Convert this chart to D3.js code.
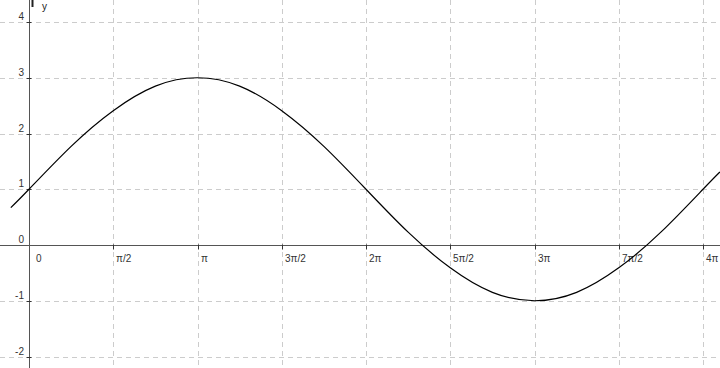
<!DOCTYPE html>
<html>
<head>
<meta charset="utf-8">
<script src="https://cdn.jsdelivr.net/npm/d3@7"></script>
<style>
  body { margin: 0; background: #fff; }
  svg { display: block; font-family: "Liberation Sans", Arial, sans-serif; }
  .grid line { stroke: #cccccc; stroke-dasharray: 5,4; }
  .lbl { font-size: 10px; fill: #333; }
</style>
</head>
<body>
<svg width="720" height="368"></svg>
<script>
// x positions are in multiples of pi
var xTickValues = [0.5, 1, 1.5, 2, 2.5, 3, 3.5, 4];
var xTickLabels = ["π/2", "π", "3π/2", "2π", "5π/2", "3π", "7π/2", "4π"];
var yTickValues = [-2, -1, 0, 1, 2, 3, 4];

// curve
var curveX = [-0.108, 0, 0.25, 0.5, 0.75, 1, 1.25, 1.5, 1.75, 2, 2.25, 2.5, 2.75, 3, 3.25, 3.5, 3.75, 4, 4.1];
var curveY = [0.67, 1, 1.77, 2.41, 2.85, 3, 2.85, 2.41, 1.77, 1, 0.23, -0.41, -0.85, -1, -0.85, -0.41, 0.23, 1, 1.31];

var width = 720, height = 368;
var svg = d3.select('svg');

var xScale = d3.scaleLinear().domain([0, 4]).range([29, 703]);
var yScale = d3.scaleLinear().domain([0, 4]).range([245, 22]);

// grid
var grid = svg.append('g').attr('class', 'grid');
grid.selectAll('.vg')
    .data(xTickValues)
    .enter().append('line')
    .attr('x1', d => Math.round(xScale(d)) + 0.5)
    .attr('x2', d => Math.round(xScale(d)) + 0.5)
    .attr('y1', 0)
    .attr('y2', height);
grid.selectAll('.hg')
    .data(yTickValues.filter(d => d != 0))
    .enter().append('line')
    .attr('x1', 0)
    .attr('x2', width)
    .attr('y1', d => Math.round(yScale(d)) + 0.5)
    .attr('y2', d => Math.round(yScale(d)) + 0.5);

// axes
var x0 = Math.round(xScale(0)) + 0.5;
var y0 = Math.round(yScale(0)) + 0.5;
svg.append('line')
    .attr('x1', 0).attr('x2', width)
    .attr('y1', y0).attr('y2', y0)
    .attr('stroke', '#555');
svg.append('line')
    .attr('x1', x0).attr('x2', x0)
    .attr('y1', 0).attr('y2', height)
    .attr('stroke', '#555');
svg.append('line')
    .attr('x1', x0 + 3).attr('x2', x0 + 3)
    .attr('y1', 0).attr('y2', 7)
    .attr('stroke', '#222')
    .attr('stroke-width', 2);
svg.append('text')
    .attr('x', 42).attr('y', 10)
    .attr('font-size', 10)
    .attr('fill', '#222')
    .text('y');

// x ticks
svg.selectAll('.xt')
    .data(xTickValues)
    .enter().append('line')
    .attr('x1', d => Math.round(xScale(d)) + 0.5)
    .attr('x2', d => Math.round(xScale(d)) + 0.5)
    .attr('y1', y0 - 1)
    .attr('y2', y0 + 4)
    .attr('stroke', '#333');
svg.selectAll('.xl')
    .data(xTickValues)
    .enter().append('text')
    .attr('class', 'lbl')
    .attr('x', d => Math.round(xScale(d)) + 3)
    .attr('y', 262)
    .text((d, i) => xTickLabels[i]);
svg.append('text')
    .attr('class', 'lbl')
    .attr('x', 36)
    .attr('y', 262)
    .text('0');

// y ticks
svg.selectAll('.yt')
    .data(yTickValues.filter(d => d != 0))
    .enter().append('line')
    .attr('x1', x0 - 3)
    .attr('x2', x0 + 2)
    .attr('y1', d => Math.round(yScale(d)) + 0.5)
    .attr('y2', d => Math.round(yScale(d)) + 0.5)
    .attr('stroke', '#333');
svg.selectAll('.yl')
    .data(yTickValues)
    .enter().append('text')
    .attr('class', 'lbl')
    .attr('text-anchor', 'end')
    .attr('x', 24)
    .attr('y', d => Math.round(yScale(d)) - 2)
    .text(d => d);

// curve
var points = curveX.map((x, i) => [x, curveY[i]]);
var valueline = d3.line()
    .x(d => xScale(d[0]))
    .y(d => yScale(d[1]))
    .curve(d3.curveNatural);

svg.append('path')
    .datum(points)
    .attr('fill', 'none')
    .attr('stroke', '#000')
    .attr('stroke-width', 1.2)
    .attr('d', valueline);
</script>
</body>
</html>
